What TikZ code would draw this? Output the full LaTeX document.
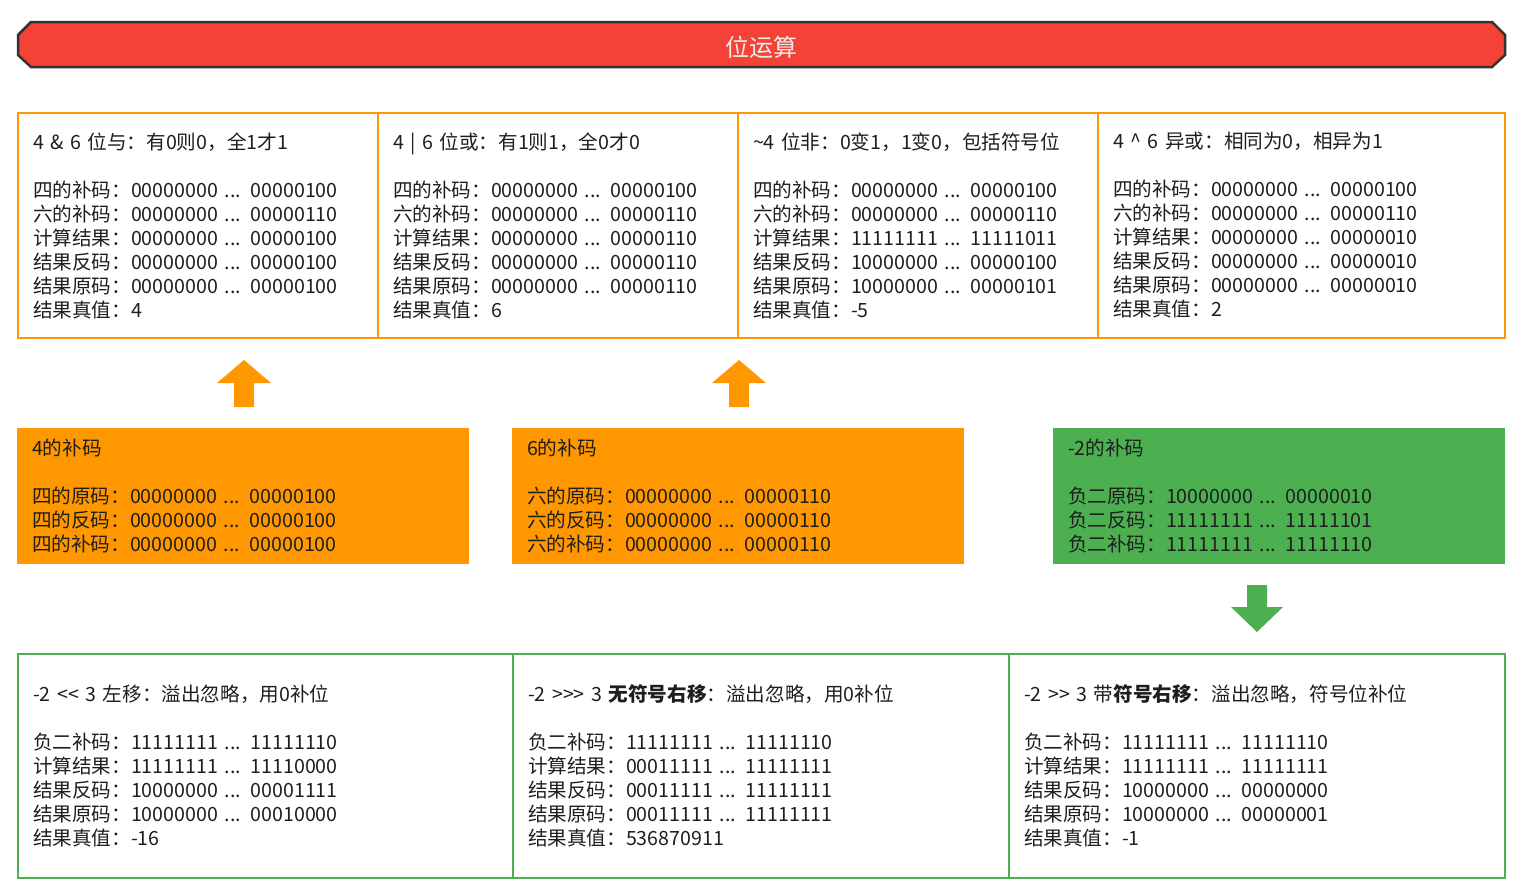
\documentclass[tikz,border=0pt]{standalone}
\usepackage{fontspec}
\setmainfont{Noto Sans CJK SC}
\usetikzlibrary{positioning}

\definecolor{titlered}{HTML}{F44336}
\definecolor{titleline}{HTML}{333333}
\definecolor{oporange}{HTML}{FF9800}
\definecolor{opgreen}{HTML}{4CAF50}
\definecolor{txtgray}{HTML}{1E1E1E}

\tikzset{
  box/.style={rectangle, anchor=north west, inner xsep=15pt, inner ysep=0pt,
    outer sep=0pt, align=left, text=txtgray,
    font=\fontsize{19.6}{24}\selectfont},
  opbox/.style={box, draw=oporange, line width=2.5pt, fill=white,
    minimum height=225, text width=#1-30},
  codebox/.style={box, fill=#1, minimum width=452, minimum height=136,
    text width=422},
  shiftbox/.style={box, draw=opgreen, line width=2.5pt, fill=white,
    minimum height=224, text width=#1-30},
}

\begin{document}
\begin{tikzpicture}[x=1pt,y=-1pt]
  \useasboundingbox (0,0) rectangle (1531,894);

  % title banner
  \draw[fill=titlered, draw=titleline, line width=2.5pt]
    (31,22) -- (1492,22) -- (1505,35) -- (1505,55) -- (1492,67)
    -- (31,67) -- (18,55) -- (18,35) -- cycle;
  \node[text=white!93!black, font=\fontsize{24}{26}\selectfont] (title) at (761,47) {位运算};

  % top row: & | ~ ^
  \node[opbox=360] (and) at (18,113) {4 \& 6 位与：有0则0，全1才1\\[24pt]
    四的补码：00000000 ... 00000100\\
    六的补码：00000000 ... 00000110\\
    计算结果：00000000 ... 00000100\\
    结果反码：00000000 ... 00000100\\
    结果原码：00000000 ... 00000100\\
    结果真值：4};
  \node[opbox=360, right=0pt of and] (or) {4 | 6 位或：有1则1，全0才0\\[24pt]
    四的补码：00000000 ... 00000100\\
    六的补码：00000000 ... 00000110\\
    计算结果：00000000 ... 00000110\\
    结果反码：00000000 ... 00000110\\
    结果原码：00000000 ... 00000110\\
    结果真值：6};
  \node[opbox=360, right=0pt of or] (not) {\textasciitilde4 位非：0变1，1变0，包括符号位\\[24pt]
    四的补码：00000000 ... 00000100\\
    六的补码：00000000 ... 00000110\\
    计算结果：11111111 ... 11111011\\
    结果反码：10000000 ... 00000100\\
    结果原码：10000000 ... 00000101\\
    结果真值：-5};
  \node[opbox=407, right=0pt of not] (xor) {4 \textasciicircum{} 6 异或：相同为0，相异为1\\[24pt]
    四的补码：00000000 ... 00000100\\
    六的补码：00000000 ... 00000110\\
    计算结果：00000000 ... 00000010\\
    结果反码：00000000 ... 00000010\\
    结果原码：00000000 ... 00000010\\
    结果真值：2};

  % middle row: complements
  \node[codebox=oporange] (four) at (17,428) {4的补码\\[24pt]
    四的原码：00000000 ... 00000100\\
    四的反码：00000000 ... 00000100\\
    四的补码：00000000 ... 00000100};
  \node[codebox=oporange] (six) at (512,428) {6的补码\\[24pt]
    六的原码：00000000 ... 00000110\\
    六的反码：00000000 ... 00000110\\
    六的补码：00000000 ... 00000110};
  \node[codebox=opgreen] (negtwo) at (1053,428) {-2的补码\\[24pt]
    负二原码：10000000 ... 00000010\\
    负二反码：11111111 ... 11111101\\
    负二补码：11111111 ... 11111110};

  % block arrows
  \fill[oporange] (234,407) -- (254,407) -- (254,383) -- (271,383) -- (244,360)
    -- (217,383) -- (234,383) -- cycle;
  \fill[oporange] (729,407) -- (749,407) -- (749,383) -- (766,383) -- (739,360)
    -- (712,383) -- (729,383) -- cycle;
  \fill[opgreen] (1247,585) -- (1267,585) -- (1267,607) -- (1283,607) -- (1257,632)
    -- (1231,607) -- (1247,607) -- cycle;

  % bottom row: shifts
  \node[shiftbox=495] (shl) at (18,654) {-2 {<}{<} 3 左移：溢出忽略，用0补位\\[24pt]
    负二补码：11111111 ... 11111110\\
    计算结果：11111111 ... 11110000\\
    结果反码：10000000 ... 00001111\\
    结果原码：10000000 ... 00010000\\
    结果真值：-16};
  \node[shiftbox=496, right=0pt of shl] (ushr) {-2 {>}{>}{>} 3 \textbf{无符号右移}：溢出忽略，用0补位\\[24pt]
    负二补码：11111111 ... 11111110\\
    计算结果：00011111 ... 11111111\\
    结果反码：00011111 ... 11111111\\
    结果原码：00011111 ... 11111111\\
    结果真值：536870911};
  \node[shiftbox=496, right=0pt of ushr] (shr) {-2 {>}{>} 3 带\textbf{符号右移}：溢出忽略，符号位补位\\[24pt]
    负二补码：11111111 ... 11111110\\
    计算结果：11111111 ... 11111111\\
    结果反码：10000000 ... 00000000\\
    结果原码：10000000 ... 00000001\\
    结果真值：-1};
\end{tikzpicture}
\end{document}
